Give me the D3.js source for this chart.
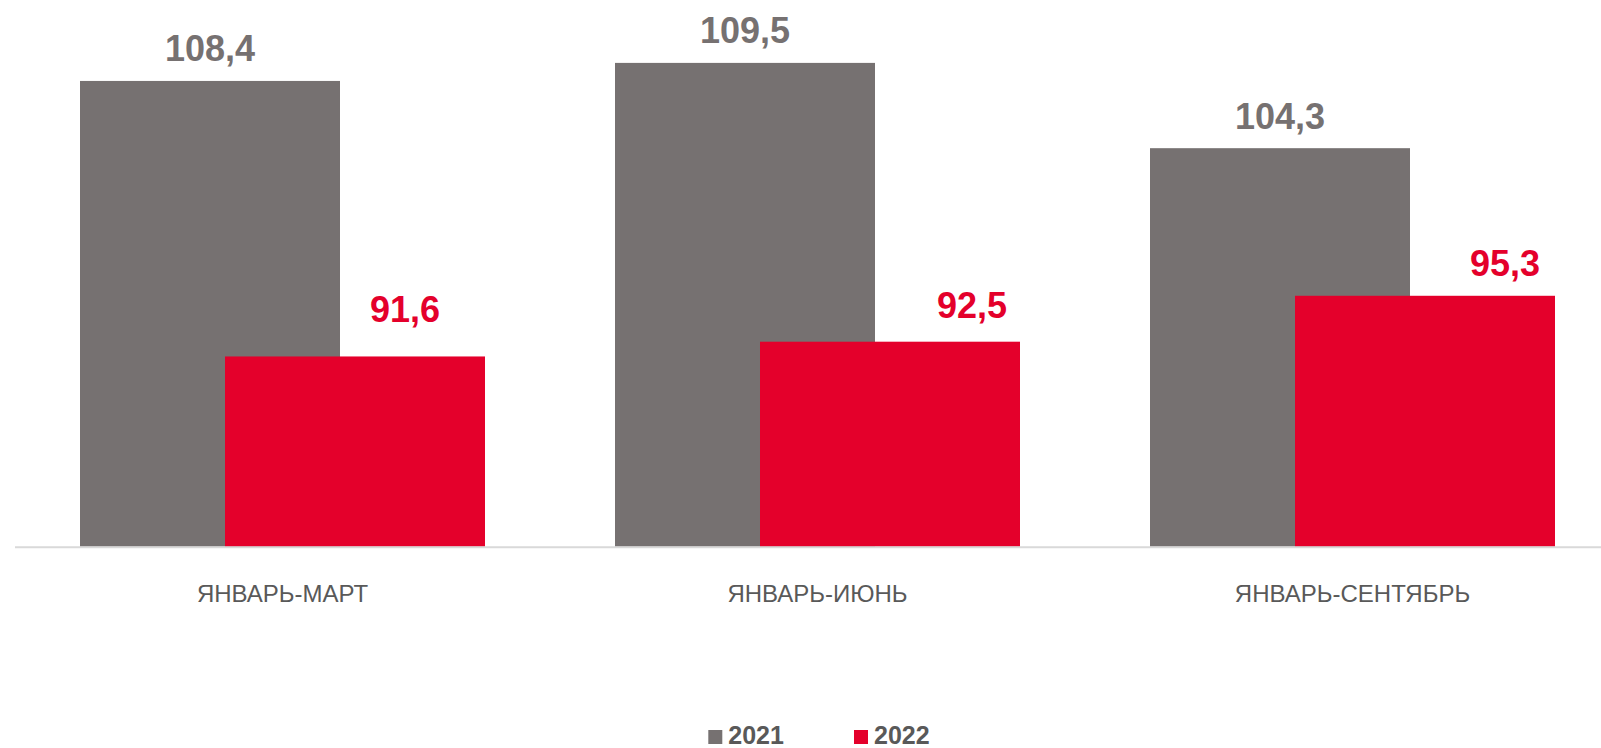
<!DOCTYPE html>
<html>
<head>
<meta charset="utf-8">
<script src="https://cdnjs.cloudflare.com/ajax/libs/d3/7.8.5/d3.min.js"></script>
<style>
  html, body { margin: 0; padding: 0; background: #ffffff; overflow: hidden; }
  svg { display: block; font-family: "Liberation Sans", Arial, sans-serif; }
</style>
</head>
<body>
<svg id="chart" width="1601" height="748"></svg>
<script>
// ---- data ----
const categories = ["ЯНВАРЬ-МАРТ", "ЯНВАРЬ-ИЮНЬ", "ЯНВАРЬ-СЕНТЯБРЬ"];
const seriesNames = ["2021", "2022"];
const values2021 = [108.4, 109.5, 104.3];
const values2022 = [91.6, 92.5, 95.3];
const valueLabels2021 = ["108,4", "109,5", "104,3"];
const valueLabels2022 = ["91,6", "92,5", "95,3"];

// ---- layout / style ----
const W = 1601, H = 748;
const baseY = 546.7;
const colors = ["#767171", "#e4002b"];
const overlap = 115 / 260;
// manual label nudges (as placed in the original)
const labelDx = [[0, 0, 0], [50, 82, 80]];
const labelGap = [[19.5, 20.3, 19], [34, 23.7, 19.3]];

const svg = d3.select("#chart");

const x0 = d3.scaleBand()
  .domain(categories)
  .range([15, 1620])
  .paddingInner(130 / 535)
  .paddingOuter(65 / 535);

const barW = x0.bandwidth() / (2 - overlap);
const step = barW * (1 - overlap);

const y = d3.scaleLinear().domain([80, 110]).range([baseY, baseY - 30 * 16.4]);

const series = [values2021, values2022];
const labels = [valueLabels2021, valueLabels2022];

series.forEach((vals, si) => {
  const g = svg.append("g");
  g.selectAll("rect")
    .data(vals)
    .join("rect")
    .attr("x", (d, i) => x0(categories[i]) + si * step)
    .attr("y", d => y(d))
    .attr("width", barW)
    .attr("height", d => y.range()[0] - y(d))
    .attr("fill", colors[si]);
});

// axis line
svg.append("line")
  .attr("x1", 15).attr("x2", W)
  .attr("y1", baseY + 0.5).attr("y2", baseY + 0.5)
  .attr("stroke", "#d9d9d9").attr("stroke-width", 2);

// value labels
series.forEach((vals, si) => {
  svg.append("g").selectAll("text")
    .data(vals)
    .join("text")
    .attr("x", (d, i) => x0(categories[i]) + si * step + barW / 2 + labelDx[si][i])
    .attr("y", (d, i) => y(d) - labelGap[si][i])
    .attr("text-anchor", "middle")
    .attr("font-size", 36)
    .attr("font-weight", "bold")
    .attr("fill", colors[si])
    .text((d, i) => labels[si][i]);
});

// category labels
svg.append("g").selectAll("text")
  .data(categories)
  .join("text")
  .attr("x", d => x0(d) + x0.bandwidth() / 2)
  .attr("y", 602)
  .attr("text-anchor", "middle")
  .attr("font-size", 24)
  .attr("fill", "#595959")
  .text(d => d);

// legend
const legendX = [708.3, 854];
const legend = svg.append("g");
seriesNames.forEach((name, i) => {
  legend.append("rect")
    .attr("x", legendX[i]).attr("y", 730)
    .attr("width", 14).attr("height", 14)
    .attr("fill", colors[i]);
  legend.append("text")
    .attr("x", legendX[i] + 20).attr("y", 743.5)
    .attr("font-size", 25)
    .attr("font-weight", "bold")
    .attr("fill", "#595959")
    .text(name);
});
</script>
</body>
</html>
